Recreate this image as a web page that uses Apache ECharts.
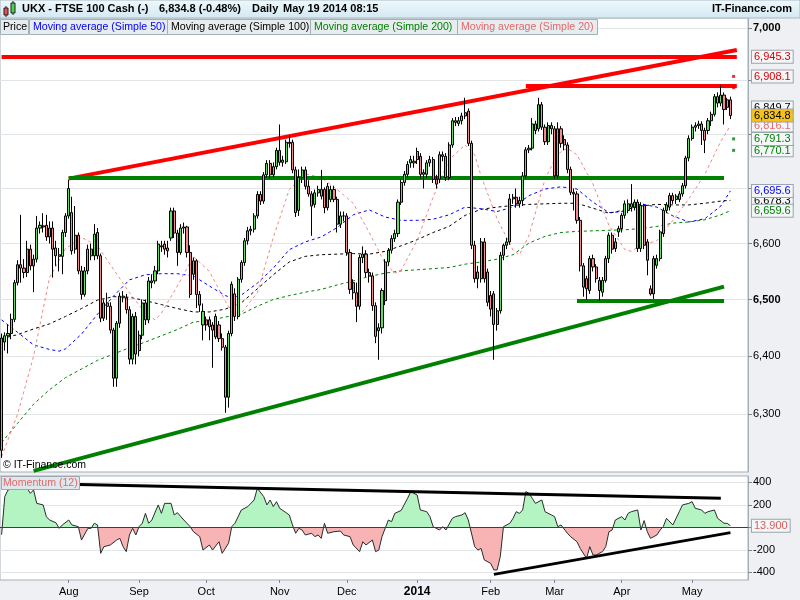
<!DOCTYPE html>
<html><head><meta charset="utf-8">
<script src="https://cdn.jsdelivr.net/npm/echarts@6/dist/echarts.min.js"></script>
<style>html,body{margin:0;padding:0;background:#eef0f3}#c{width:800px;height:600px}</style>
</head><body><div id="c"></div><script>
// ---------- DATA ----------
const opens = [6238,6425,6436,6440,6465,6530,6562,6556,6548,6590,6560,6572,6628,6632,6633,6612,6628,6592,6580,6577,6620,6650,6656,6590,6615,6551,6509,6551,6590,6578,6620,6578,6467,6494,6488,6446,6362,6458,6506,6503,6482,6395,6470,6410,6437,6494,6464,6530,6533,6551,6594,6599,6592,6610,6659,6619,6584,6628,6630,6584,6545,6569,6509,6455,6464,6452,6455,6434,6455,6431,6416,6329,6440,6510,6470,6536,6566,6605,6623,6626,6650,6689,6677,6725,6746,6725,6740,6770,6748,6749,6785,6785,6734,6660,6720,6734,6704,6690,6671,6692,6686,6698,6665,6680,6698,6680,6635,6650,6650,6584,6530,6512,6488,6575,6581,6548,6542,6489,6445,6450,6498,6567,6588,6609,6618,6675,6711,6726,6747,6750,6753,6759,6726,6726,6747,6753,6717,6717,6762,6759,6720,6780,6825,6820,6825,6834,6843,6783,6597,6537,6537,6603,6549,6507,6510,6456,6480,6579,6597,6603,6681,6684,6672,6678,6723,6771,6774,6819,6810,6855,6813,6786,6810,6810,6723,6810,6790,6780,6735,6693,6690,6642,6560,6537,6516,6573,6558,6534,6513,6534,6573,6615,6591,6621,6627,6651,6660,6672,6666,6675,6591,6669,6603,6519,6510,6561,6573,6618,6660,6666,6687,6680,6680,6690,6705,6756,6792,6813,6816,6819,6807,6807,6825,6837,6870,6858,6873,6850,6864];
const closes = [6432,6436,6440,6465,6530,6562,6556,6548,6590,6560,6572,6628,6633,6630,6612,6628,6590,6578,6577,6620,6650,6700,6587,6615,6551,6509,6551,6590,6578,6617,6578,6467,6494,6488,6446,6362,6458,6506,6503,6482,6395,6470,6404,6437,6494,6464,6533,6533,6551,6599,6596,6590,6587,6659,6619,6584,6628,6630,6584,6509,6569,6509,6490,6479,6455,6464,6446,6470,6431,6416,6329,6440,6527,6470,6536,6566,6605,6623,6626,6650,6689,6677,6725,6746,6725,6740,6770,6748,6752,6785,6783,6734,6656,6720,6734,6704,6690,6668,6692,6698,6698,6665,6704,6698,6680,6635,6650,6650,6584,6518,6512,6488,6575,6581,6548,6542,6489,6435,6450,6516,6567,6588,6609,6618,6675,6711,6726,6744,6753,6747,6768,6726,6729,6747,6753,6717,6708,6762,6759,6720,6780,6825,6822,6825,6834,6840,6783,6597,6537,6549,6603,6537,6495,6483,6456,6480,6579,6597,6603,6681,6684,6672,6678,6723,6771,6774,6819,6807,6855,6813,6786,6816,6816,6723,6810,6783,6780,6735,6693,6690,6642,6560,6522,6519,6573,6558,6537,6516,6534,6573,6615,6590,6603,6627,6651,6672,6672,6666,6675,6591,6669,6597,6570,6510,6573,6573,6621,6660,6670,6687,6678,6686,6690,6705,6756,6792,6813,6816,6819,6807,6789,6825,6837,6870,6858,6873,6846,6864,6834.8];
const lows = [6225,6410,6405,6430,6460,6525,6530,6538,6540,6552,6513,6566,6618,6620,6605,6600,6539,6560,6550,6545,6612,6645,6580,6582,6545,6500,6505,6545,6570,6570,6572,6460,6462,6464,6440,6347,6347,6450,6495,6475,6386,6386,6386,6400,6430,6455,6458,6520,6528,6545,6585,6580,6575,6605,6610,6560,6580,6618,6575,6503,6535,6485,6478,6428,6445,6428,6380,6430,6425,6410,6302,6311,6435,6462,6465,6530,6560,6598,6615,6620,6645,6670,6672,6720,6718,6720,6735,6742,6740,6745,6775,6728,6648,6650,6710,6698,6685,6614,6665,6685,6680,6655,6660,6675,6675,6620,6628,6640,6578,6510,6500,6460,6482,6565,6540,6530,6480,6423,6394,6440,6490,6560,6582,6603,6612,6670,6705,6720,6738,6738,6745,6718,6700,6720,6740,6710,6700,6710,6750,6714,6715,6775,6815,6815,6818,6828,6778,6590,6530,6520,6530,6530,6488,6470,6394,6445,6475,6570,6590,6598,6672,6665,6665,6668,6718,6765,6770,6800,6805,6808,6780,6780,6800,6718,6718,6775,6770,6728,6688,6660,6636,6550,6505,6500,6510,6550,6530,6498,6505,6530,6565,6582,6585,6612,6620,6645,6655,6658,6660,6585,6585,6590,6543,6507,6501,6555,6568,6612,6655,6660,6672,6672,6675,6685,6700,6750,6788,6805,6810,6780,6765,6800,6815,6833,6850,6852,6818,6845,6828];
const highs = [6440,6442,6455,6475,6535,6570,6652,6572,6605,6598,6580,6650,6640,6655,6652,6640,6640,6605,6592,6625,6655,6716,6685,6668,6620,6560,6558,6598,6600,6635,6628,6582,6500,6512,6495,6450,6462,6512,6515,6510,6488,6475,6478,6445,6500,6500,6540,6545,6560,6605,6605,6605,6605,6665,6665,6625,6635,6638,6632,6597,6575,6572,6515,6493,6470,6470,6460,6475,6462,6440,6420,6445,6532,6520,6540,6570,6610,6630,6632,6655,6695,6695,6730,6752,6752,6748,6775,6818,6760,6790,6798,6790,6740,6735,6740,6740,6715,6695,6698,6705,6734,6702,6710,6705,6705,6685,6658,6658,6655,6590,6536,6530,6580,6595,6588,6555,6548,6495,6458,6520,6572,6592,6615,6625,6680,6716,6732,6750,6760,6760,6775,6765,6735,6752,6760,6758,6725,6768,6768,6765,6785,6830,6832,6832,6840,6868,6848,6788,6605,6560,6610,6610,6555,6515,6515,6485,6585,6600,6610,6690,6690,6700,6685,6730,6776,6780,6830,6825,6868,6860,6818,6822,6822,6815,6822,6815,6798,6785,6740,6700,6695,6648,6565,6542,6578,6580,6563,6540,6540,6578,6620,6620,6610,6632,6655,6678,6680,6708,6680,6680,6675,6672,6608,6525,6578,6580,6625,6665,6675,6692,6692,6690,6695,6710,6760,6798,6818,6822,6825,6824,6812,6830,6842,6875,6878,6892,6878,6868,6870];

// moving averages: [bar index, value]
const ma20 = [[0,6227],[5,6300],[10,6400],[15,6539],[20,6591],[25,6611],[30,6596],[35,6554],[40,6512],[45,6476],[48,6464],[50,6476],[55,6524],[60,6577],[65,6550],[70,6497],[72,6479],[75,6476],[80,6512],[85,6611],[90,6698],[95,6727],[100,6720],[105,6698],[110,6673],[115,6620],[120,6564],[123,6547],[125,6552],[130,6606],[135,6684],[140,6753],[145,6780],[148,6762],[150,6723],[155,6645],[160,6588],[162,6580],[165,6615],[170,6717],[173,6753],[175,6768],[177,6774],[180,6762],[185,6708],[190,6633],[195,6589],[197,6586],[200,6597],[205,6605],[210,6642],[215,6681],[220,6726],[225,6787],[228,6816.1]];
const ma50 = [[0,6464],[5,6442],[10,6420],[15,6412],[18,6409],[20,6413],[25,6439],[30,6474],[35,6506],[40,6535],[45,6544],[50,6546],[55,6546],[60,6542],[65,6524],[70,6507],[72,6503],[75,6508],[80,6529],[85,6556],[90,6589],[95,6603],[100,6612],[105,6629],[110,6652],[115,6661],[120,6648],[125,6642],[130,6642],[135,6644],[140,6652],[145,6666],[150,6663],[155,6658],[160,6666],[165,6687],[170,6699],[175,6703],[180,6699],[185,6675],[190,6656],[195,6658],[200,6672],[205,6666],[210,6650],[215,6639],[220,6645],[225,6668],[228,6695.6]];
const ma100 = [[0,6431],[5,6438],[10,6448],[15,6457],[20,6470],[25,6484],[30,6499],[35,6505],[40,6504],[45,6498],[50,6491],[55,6484],[60,6478],[65,6478],[70,6483],[75,6494],[80,6519],[85,6544],[90,6567],[95,6577],[100,6580],[105,6581],[110,6582],[115,6581],[120,6586],[125,6596],[130,6607],[135,6620],[140,6631],[145,6651],[150,6662],[155,6666],[160,6669],[165,6671],[170,6672],[175,6673],[180,6673],[185,6664],[190,6655],[195,6661],[200,6668],[205,6671],[210,6670],[215,6670],[220,6673],[225,6677],[228,6678.3]];
const ma200 = [[0,6251],[5,6284],[10,6317],[15,6342],[20,6363],[25,6378],[30,6393],[35,6404],[40,6415],[45,6425],[50,6436],[55,6447],[60,6460],[65,6463],[70,6469],[75,6474],[80,6488],[85,6500],[90,6507],[95,6513],[100,6518],[105,6526],[110,6533],[115,6541],[120,6547],[125,6551],[130,6553],[135,6555],[140,6557],[145,6563],[150,6567],[155,6572],[160,6580],[165,6601],[170,6613],[175,6620],[180,6622],[185,6623],[190,6624],[195,6625],[200,6627],[205,6631],[210,6637],[215,6639],[220,6643],[225,6652],[228,6659.6]];

// momentum (12): [bar index, value]
const momentum = [[0,-65],[1,273],[2,332],[4,347],[6,391],[8,347],[9,302],[10,332],[11,213],[13,199],[14,95],[15,65],[17,41],[18,-9],[19,21],[21,65],[22,21],[24,6],[25,-113],[27,-9],[28,-9],[29,36],[30,21],[31,-231],[32,-172],[34,-157],[36,-113],[37,-98],[38,-172],[39,-216],[40,-68],[41,-9],[42,-68],[43,6],[44,36],[45,124],[46,36],[47,65],[49,199],[50,124],[51,213],[53,213],[54,110],[55,130],[57,65],[59,6],[60,-39],[62,-83],[63,-202],[65,-157],[66,-202],[68,-128],[69,-231],[71,-142],[72,6],[73,36],[75,154],[77,184],[79,243],[80,347],[82,273],[83,199],[84,243],[85,184],[86,228],[87,169],[89,130],[90,110],[91,21],[92,-53],[93,-9],[94,-24],[95,-68],[97,-53],[98,-83],[99,-68],[100,-98],[101,36],[102,-53],[104,-39],[106,-33],[107,-68],[109,-83],[110,-157],[112,-216],[113,-128],[114,-157],[116,-113],[117,-216],[118,-202],[119,-83],[121,65],[122,50],[123,124],[125,150],[127,258],[128,317],[130,287],[131,154],[133,139],[134,95],[135,6],[137,-24],[138,6],[139,-24],[141,80],[142,95],[144,110],[145,130],[146,65],[148,-172],[149,-202],[150,-187],[151,-290],[153,-320],[154,-379],[155,-379],[156,-261],[157,6],[159,36],[160,80],[161,139],[162,124],[163,154],[164,317],[165,302],[166,258],[167,213],[169,243],[170,139],[172,110],[173,95],[174,6],[175,21],[177,-53],[178,-83],[180,-128],[181,-187],[183,-276],[184,-172],[185,-246],[186,-246],[188,-216],[189,-172],[190,-39],[191,-24],[192,65],[194,95],[195,65],[196,124],[197,139],[199,154],[200,-24],[201,60],[202,-39],[203,-98],[205,-68],[206,-24],[207,6],[208,80],[210,21],[211,80],[212,139],[213,199],[215,213],[216,228],[217,169],[219,154],[220,124],[221,139],[223,154],[224,80],[226,36],[227,36],[228,13.9]];

// drawn trend lines (bar index, value)
const priceTrends = [[[0,6946],[230,6946]],[[21,6718],[230,6958]],[[164,6890],[230,6890]],[[21,6719],[226,6719]],[[180,6498],[226,6498]],[[10,6203],[226,6523]]];
const priceTrendColors = ['#ff0000','#ff0000','#ff0000','#008000','#008000','#008000'];
const momTrends = [[[6,391],[225,258]],[[154,-418],[228,-47]]];
const pivotLevels = [6908.1, 6886.9, 6791.3, 6770.1];
const pivotColors = ['#e00000','#e00000','#008000','#008000'];

const priceTicks = [6300,6400,6500,6600,6700,6800,6900,7000];
const priceLabels = [6300,6400,6500,6600,7000];
const tagValues = [6886.9, 6908.1, 6945.3, 6849.7, 6816.1, 6770.1, 6791.3, 6678.3, 6695.6, 6659.6, 6834.8];
const tagColors = ['#e00000','#e00000','#e00000','#000000','#e86a6a','#008000','#008000','#000000','#0000ff','#008000','#000000'];
const momTicks = [-400,-200,0,200,400];
const momLabels = [-400,-200,200,400];
const momLast = 13.9;
const monthNames = ['Jan','Feb','Mar','Apr','May','Jun','Jul','Aug','Sep','Oct','Nov','Dec'];

// categories: weekdays from 2013-07-03, plus a few empty future slots
const dates = (function(){const out=[];const d=new Date(Date.UTC(2013,6,3));while(out.length<234){const w=d.getUTCDay();if(w>0&&w<6)out.push(d.toISOString().slice(0,10));d.setUTCDate(d.getUTCDate()+1);}return out;})();
const monthStart = new Set();
for(let i=1;i<dates.length;i++){ if(dates[i].slice(5,7)!==dates[i-1].slice(5,7)) monthStart.add(i); }

// ---------- CHART ----------
const FONT = '"Liberation Sans", Arial, sans-serif';
const chart = echarts.init(document.getElementById('c'), null, {renderer:'canvas'});
const candles = opens.map((o,i)=>[o, closes[i], lows[i], highs[i]]);
const fmt1 = v => v.toLocaleString('en-US',{minimumFractionDigits:1,maximumFractionDigits:1});

const tagRich = {};
tagValues.forEach((v,k)=>{
  tagRich['t'+k] = {color: tagColors[k], backgroundColor: k===10 ? '#f3c21c' : '#f4f6f8', borderColor:'#9aa5ad', borderWidth:1, padding:[1,2,0,2], fontSize:11, fontFamily:FONT, lineHeight:12};
});

function maSeries(name, data, color){
  return {name, type:'line', xAxisIndex:0, yAxisIndex:0, data, showSymbol:false, symbol:'none', silent:true,
    lineStyle:{color, width:1, type:[3,3]}, z:3};
}

const option = {
  animation:false,
  backgroundColor:'#eef0f3',
  textStyle:{fontFamily:FONT},
  grid:[
    {left:0, top:18, width:748, height:454, show:true, backgroundColor:'#ffffff', borderColor:'#a4afb6', borderWidth:1},
    {left:0, top:476, width:748, height:104, show:true, backgroundColor:'#ffffff', borderColor:'#a4afb6', borderWidth:1}
  ],
  xAxis:[
    {type:'category', gridIndex:0, data:dates, boundaryGap:true, axisLine:{show:false, onZero:false}, axisTick:{show:false}, axisLabel:{show:false}, splitLine:{show:false}},
    {type:'category', gridIndex:1, data:dates, boundaryGap:true, position:'bottom', axisLine:{show:false, onZero:false},
      axisTick:{show:true, alignWithLabel:true, length:3, interval:(i)=>monthStart.has(i), lineStyle:{color:'#7d868c'}},
      axisLabel:{show:true, interval:(i)=>monthStart.has(i), margin:6, fontSize:11, color:'#000', fontFamily:FONT,
        formatter:(v)=>{const m=+v.slice(5,7)-1; return m===0?'{b|'+v.slice(0,4)+'}':monthNames[m];},
        rich:{b:{fontWeight:'bold', fontSize:12, fontFamily:FONT, color:'#000'}}},
      splitLine:{show:false}}
  ],
  yAxis:[
    {type:'log', logBase:10, gridIndex:0, position:'right', min:6201.1, max:7019.1,
      axisLine:{show:true, lineStyle:{color:'#a4afb6'}},
      axisTick:{show:true, length:4, customValues:priceTicks, lineStyle:{color:'#7d868c'}},
      splitLine:{show:true, lineStyle:{color:'#e2e5e8', width:1}},
      axisLabel:{customValues:priceLabels, margin:5, fontSize:11, color:'#000', fontFamily:FONT,
        formatter:(v)=>{const r=Math.round(v); const s=r.toLocaleString('en-US'); return r%500===0?'{b|'+s+'}':s;},
        rich:{b:{fontWeight:'bold', fontSize:11, fontFamily:FONT, color:'#000'}}}},
    {type:'log', logBase:10, gridIndex:0, position:'right', min:6201.1, max:7019.1,
      axisLine:{show:false}, axisTick:{show:false}, splitLine:{show:false},
      axisLabel:{customValues:tagValues, margin:4, fontSize:11, fontFamily:FONT,
        formatter:(v)=>{let k=0,b=1e9; tagValues.forEach((t,j)=>{const d=Math.abs(t-v); if(d<b){b=d;k=j;}}); return '{t'+k+'|'+fmt1(tagValues[k])+'}';},
        rich:tagRich}},
    {type:'value', gridIndex:1, position:'right', min:-468, max:456,
      axisLine:{show:true, lineStyle:{color:'#a4afb6'}},
      axisTick:{show:true, length:4, customValues:momTicks, lineStyle:{color:'#7d868c'}},
      splitLine:{show:true, lineStyle:{color:'#e2e5e8'}},
      axisLabel:{customValues:momLabels, margin:5, fontSize:11, color:'#000', fontFamily:FONT, formatter:(v)=>String(Math.round(v))}},
    {type:'value', gridIndex:1, position:'right', min:-468, max:456,
      axisLine:{show:false}, axisTick:{show:false}, splitLine:{show:false},
      axisLabel:{customValues:[momLast], margin:4, fontSize:11, fontFamily:FONT,
        formatter:(v)=>'{m|'+momLast.toFixed(3)+'}',
        rich:{m:{color:'#e05a5a', backgroundColor:'#f4f6f8', borderColor:'#9aa5ad', borderWidth:1, padding:[1,2,0,2], fontSize:11, fontFamily:FONT}}}}
  ],
  visualMap:[{type:'piecewise', show:false, seriesIndex:7, dimension:1,
    pieces:[{gt:0, lte:5000, color:'#b4f4c2'},{gte:-5000, lte:0, color:'#f8b4b4'}]}],
  series:[
    {name:'Price', type:'candlestick', xAxisIndex:0, yAxisIndex:0, data:candles, barWidth:2.6, silent:true, z:5,
      itemStyle:{color:'#5fe05f', color0:'#f28b8b', borderColor:'#000', borderColor0:'#000', borderWidth:1}},
    maSeries('MA50', ma50, '#0000ff'),
    maSeries('MA100', ma100, '#000000'),
    maSeries('MA200', ma200, '#008000'),
    maSeries('MA20', ma20, '#ee8888'),
    {name:'trend', type:'line', xAxisIndex:0, yAxisIndex:0, data:[], silent:true, z:6,
      markLine:{silent:true, symbol:['none','none'], label:{show:false}, animation:false,
        data: priceTrends.map((t,k)=>[{coord:t[0], lineStyle:{color:priceTrendColors[k], width:4, type:'solid'}},{coord:t[1]}])}},
    {name:'pivots', type:'scatter', xAxisIndex:0, yAxisIndex:0, symbol:'rect', symbolSize:3, silent:true, z:7,
      data: pivotLevels.map((v,k)=>({value:[229, v], itemStyle:{color:pivotColors[k]}}))},
    {name:'Momentum', type:'line', xAxisIndex:1, yAxisIndex:2, data:momentum, showSymbol:false, symbol:'none', silent:true, z:3,
      lineStyle:{color:'#2b2b2b', width:1}, areaStyle:{opacity:1}},
    {name:'zero', type:'line', xAxisIndex:1, yAxisIndex:2, data:[], silent:true, z:10, zlevel:0,
      markLine:{silent:true, symbol:['none','none'], label:{show:false}, animation:false, z:10,
        lineStyle:{color:'#2a2ad8', width:1, type:'solid'},
        data:[{yAxis:0}]}},
    {name:'momtrend', type:'line', xAxisIndex:1, yAxisIndex:2, data:[], silent:true, z:11,
      markLine:{silent:true, symbol:['none','none'], label:{show:false}, animation:false, z:11,
        data: momTrends.map(t=>[{coord:t[0], lineStyle:{color:'#000', width:3, type:'solid'}},{coord:t[1]}])}}
  ],
  graphic:[
    {type:'rect', z:100, shape:{x:0,y:0,width:800,height:18}, style:{fill:new echarts.graphic.LinearGradient(0,0,0,1,[{offset:0,color:'#eff9fd'},{offset:1,color:'#d3e8f1'}]), stroke:'#a9b9c2', lineWidth:1}},
    {type:'line', z:101, shape:{x1:6,y1:6,x2:6,y2:17}, style:{stroke:'#202020', lineWidth:1}},
    {type:'rect', z:102, shape:{x:4,y:8,width:4,height:7}, style:{fill:'#e85050', stroke:'#202020', lineWidth:1}},
    {type:'line', z:101, shape:{x1:13,y1:1,x2:13,y2:15}, style:{stroke:'#202020', lineWidth:1}},
    {type:'rect', z:102, shape:{x:11,y:3,width:4,height:10}, style:{fill:'#50d050', stroke:'#202020', lineWidth:1}},
    {type:'text', z:102, x:22, y:9, style:{text:'UKX - FTSE 100 Cash (-)', font:'bold 11px '+FONT, fill:'#000', verticalAlign:'middle'}},
    {type:'text', z:102, x:159, y:9, style:{text:'6,834.8 (-0.48%)', font:'bold 11px '+FONT, fill:'#000', verticalAlign:'middle'}},
    {type:'text', z:102, x:252, y:9, style:{text:'Daily', font:'bold 11px '+FONT, fill:'#000', verticalAlign:'middle'}},
    {type:'text', z:102, x:283, y:9, style:{text:'May 19 2014 08:15', font:'bold 11px '+FONT, fill:'#000', verticalAlign:'middle'}},
    {type:'text', z:102, x:792, y:9, style:{text:'IT-Finance.com', font:'bold 11px '+FONT, fill:'#000', align:'right', verticalAlign:'middle'}},
    {type:'rect', z:100, shape:{x:0.5,y:19.5,width:28,height:15}, style:{fill:'#e7ecef', stroke:'#a3b0b8', lineWidth:1}},
    {type:'text', z:102, x:3, y:27, style:{text:'Price', font:'10.6px '+FONT, fill:'#000', verticalAlign:'middle'}},
    {type:'rect', z:100, shape:{x:29.5,y:19.5,width:138,height:15}, style:{fill:'#e7ecef', stroke:'#a3b0b8', lineWidth:1}},
    {type:'text', z:102, x:33, y:27, style:{text:'Moving average (Simple 50)', font:'10.6px '+FONT, fill:'#0000ff', verticalAlign:'middle'}},
    {type:'rect', z:100, shape:{x:167.5,y:19.5,width:143,height:15}, style:{fill:'#e7ecef', stroke:'#a3b0b8', lineWidth:1}},
    {type:'text', z:102, x:171, y:27, style:{text:'Moving average (Simple 100)', font:'10.6px '+FONT, fill:'#000', verticalAlign:'middle'}},
    {type:'rect', z:100, shape:{x:310.5,y:19.5,width:147,height:15}, style:{fill:'#e7ecef', stroke:'#a3b0b8', lineWidth:1}},
    {type:'text', z:102, x:314, y:27, style:{text:'Moving average (Simple 200)', font:'10.6px '+FONT, fill:'#008000', verticalAlign:'middle'}},
    {type:'rect', z:100, shape:{x:457.5,y:19.5,width:140,height:15}, style:{fill:'#e7ecef', stroke:'#a3b0b8', lineWidth:1}},
    {type:'text', z:102, x:461, y:27, style:{text:'Moving average (Simple 20)', font:'10.6px '+FONT, fill:'#e06a6a', verticalAlign:'middle'}},
    {type:'text', z:102, x:3, y:465, style:{text:'\u00a9 IT-Finance.com', font:'10.5px '+FONT, fill:'#000', verticalAlign:'middle'}},
    {type:'rect', z:100, shape:{x:1.5,y:476.5,width:78,height:13}, style:{fill:'#dfe7ec', stroke:'#9aa8b1', lineWidth:1}},
    {type:'text', z:102, x:3, y:483, style:{text:'Momentum (12)', font:'10.6px '+FONT, fill:'#e06a6a', verticalAlign:'middle'}}
  ]
};
chart.setOption(option);
</script></body></html>
